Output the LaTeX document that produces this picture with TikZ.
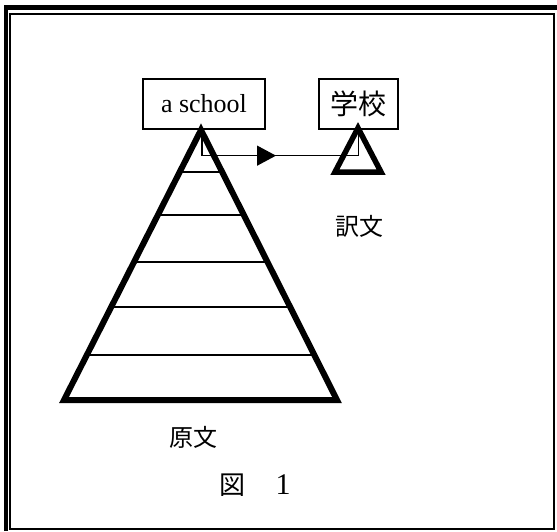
\documentclass[tikz,border=0pt]{standalone}
\usepackage{fontspec}
\setmainfont{Liberation Serif}
\newfontfamily\cjk{Noto Sans CJK JP}
\usetikzlibrary{arrows.meta,decorations.markings,calc}
\begin{document}
\begin{tikzpicture}[x=1pt,y=-1pt,
  box/.style={draw,line width=1.3pt,minimum width=#1,minimum height=50pt,inner sep=0pt},
  thin/.style={line width=1.4pt},
  thick tri/.style={line width=6pt,miter limit=20,line join=miter},
  small tri/.style={line width=5.5pt,miter limit=20,line join=miter},
  lab/.style={inner sep=0pt,font=\cjk\fontsize{24}{24}\selectfont}]
\useasboundingbox (0,0) rectangle (557,531);
% frame
\draw[line width=2pt] (10,14) rectangle (554,529);
\draw[line width=4.2pt,line join=miter] (6,531) -- (6,7.5) -- (557,7.5);
% big triangle
\coordinate (A) at (201,130);
\coordinate (L) at (64,400);
\coordinate (R) at (337,400);
\draw[thick tri] (A) -- (L) -- (R) -- cycle;
\foreach \t in {0.156,0.315,0.489,0.656,0.833}
  \draw[thin] ($(A)!\t!(L)$) -- ($(A)!\t!(R)$);
% small triangle
\coordinate (B) at (358,128);
\coordinate (BL) at (335,172);
\coordinate (BR) at (381,172);
\draw[small tri] (B) -- (BL) -- (BR) -- cycle;
% boxes
\node[box=122pt,font=\fontsize{26}{26}\selectfont] (a) at (204,104) {a school};
\node[box=79pt,font=\cjk\fontsize{28}{28}\selectfont] (b) at (358.5,104) {学校};
% connector
\draw[line width=1.3pt,
  postaction={decorate},
  decoration={markings,mark=at position 100pt with {\arrow{Triangle[length=19pt,width=20pt]}}}]
  ([xshift=-2pt]a.south) -- ++(0,26) -| (b.south);
% labels
\node[lab] (t) at (359,226) {訳文};
\node[lab] (o) at (193,437) {原文};
\node[inner sep=0pt,font=\cjk\fontsize{26}{26}\selectfont] (z) at (232.5,485) {図};
\node[inner sep=0pt,font=\fontsize{30}{30}\selectfont] (n) at (283,485) {1};
\end{tikzpicture}
\end{document}
